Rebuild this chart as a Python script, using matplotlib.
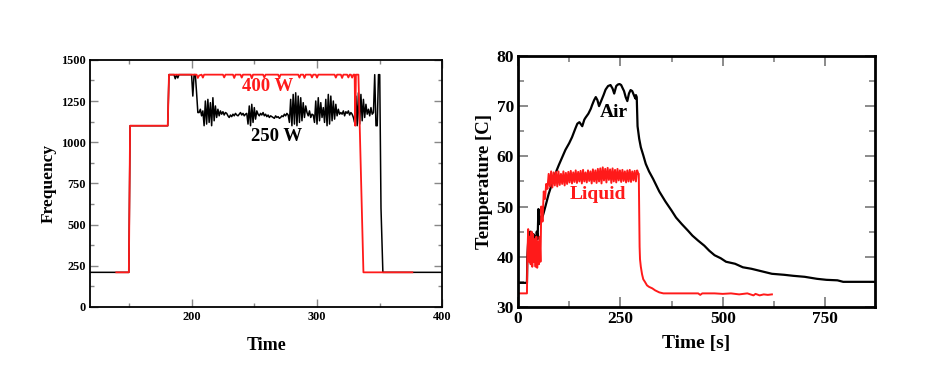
import matplotlib
matplotlib.use('Agg')
import matplotlib.pyplot as plt
from matplotlib.ticker import MultipleLocator
import numpy as np

plt.rcParams['font.family'] = ['Liberation Serif', 'DejaVu Serif']
plt.rcParams['font.weight'] = 'bold'

# ---- left panel: frequency vs time ----
# 400 W run (red)
red_t = [140, 150, 151, 181, 182, 204, 205, 206, 208, 209, 210, 225, 226, 227, 233, 234, 235,
         239, 240, 241, 247, 248, 249, 257, 258, 259, 269, 270, 271, 285, 286, 287, 289, 290, 291,
         295, 296, 297, 299, 300, 301, 314, 315, 316, 319, 320, 321, 324, 325, 326, 327, 328, 329,
         330, 330.5, 331, 333, 337, 376]
red_f = [210, 210, 1100, 1100, 1410, 1410, 1390, 1405, 1410, 1392, 1410, 1410, 1393, 1410, 1410, 1390, 1410,
         1410, 1392, 1410, 1410, 1388, 1410, 1410, 1393, 1410, 1410, 1392, 1410, 1410, 1392, 1410, 1410, 1390, 1410,
         1410, 1393, 1410, 1410, 1392, 1410, 1410, 1392, 1410, 1410, 1390, 1410, 1410, 1393, 1410, 1410, 1392, 1410,
         1410, 1100, 1410, 1410, 210, 210]

# 250 W run (black)
black_head_t = [119, 150, 151, 181, 182, 186, 187, 188, 189, 190, 200, 201, 202, 203, 204, 205]
black_head_f = [210, 210, 1100, 1100, 1410, 1410, 1385, 1410, 1390, 1410, 1410, 1280, 1410, 1410, 1300, 1180]
black_mid_f = [1180, 1200, 1160, 1190,
               1100, 1250, 1110, 1260, 1120, 1240, 1100, 1270, 1130,
               1220, 1150, 1200, 1160, 1190, 1170, 1185, 1165, 1180, 1175, 1160,
               1150, 1165, 1155, 1170, 1160, 1175, 1165, 1160, 1170, 1180, 1165, 1175, 1160, 1170, 1175,
               1110, 1220, 1100, 1230, 1120, 1210, 1140, 1190,
               1170, 1160, 1175, 1165, 1180, 1160, 1170, 1155, 1165, 1150, 1160, 1155, 1150, 1145, 1160,
               1150, 1155, 1145, 1150, 1160, 1155, 1170, 1160, 1175, 1165,
               1120, 1260, 1100, 1290, 1110, 1300, 1100, 1280, 1120, 1270, 1130, 1240, 1150, 1220,
               1180, 1160, 1190, 1150, 1170, 1165,
               1120, 1250, 1110, 1270, 1130, 1240, 1150, 1210,
               1120, 1260, 1100, 1290, 1110, 1280, 1130, 1250, 1140, 1230, 1160, 1200, 1170,
               1180, 1170, 1190, 1160, 1185, 1175, 1190, 1165, 1180, 1170, 1150,
               1120, 1280, 1100, 1300, 1110, 1290, 1130, 1260, 1150, 1230, 1170,
               1200, 1160, 1210, 1170, 1180]
black_tail_t = [346, 347, 348, 349, 350, 351, 352.5, 400]
black_tail_f = [1410, 1100, 1100, 1410, 1410, 600, 210, 210]

# ---- right panel: temperature vs time ----
air_t = [0, 22, 23, 26, 28, 30, 32, 34, 36, 38, 40, 42, 44, 46, 48, 50, 52, 55, 58, 62, 67, 75,
         85, 92, 100, 108, 116, 125, 132, 140, 145, 150, 157, 162, 165, 172, 178, 181, 186, 190,
         194, 198, 203, 209, 214, 220, 226, 231, 235, 240, 244, 248, 252, 256, 259, 263, 267, 271,
         275, 279, 284, 287, 288, 290, 292, 296, 300, 306, 312, 320, 330, 345, 360, 375, 386, 400,
         415, 426, 440, 455, 467, 480, 495, 508, 530, 549, 570, 590, 620, 650, 672, 700, 730, 753,
         780, 794, 830, 872]
air_T = [34.8, 34.8, 40, 44.5, 42, 45, 42.5, 44.8, 43, 44.5, 42, 44, 43, 45, 43.5, 49.5, 46.5, 48,
         47.5, 48.5, 50, 52.5, 55, 56.7, 58.3, 59.8, 61.3, 62.6, 63.8, 65.5, 66.5, 66.8, 66.0, 67.3,
         67.7, 68.5, 69.5, 70.2, 71.2, 71.8, 71.2, 70.0, 71.0, 72.2, 73.3, 74, 74.2, 73.5, 72.5, 74,
         74.3, 74.4, 74.2, 73.5, 73, 71.8, 71, 72.5, 73.2, 73, 72, 71.5, 72.2, 71.8, 66, 63.5, 61.8,
         60.2, 58.5, 57, 55.5, 53, 51, 49.2, 47.8, 46.5, 45.2, 44.2, 43.2, 42.2, 41.2, 40.3, 39.7,
         39.0, 38.6, 37.9, 37.6, 37.2, 36.6, 36.4, 36.2, 36.0, 35.6, 35.4, 35.3, 35.0, 35.0, 35.0]

liq_head_t = [0, 22, 23, 25, 27, 29, 31, 33, 35, 37, 39, 41, 43, 45, 47, 49, 51, 53, 55, 57, 60, 63, 66, 69]
liq_head_T = [32.7, 32.7, 40, 45.5, 39, 44, 38.5, 45, 38, 44.5, 39, 43.5, 38, 44, 37.8, 43, 38.5, 44,
              39, 50, 47, 53, 51.5, 54.5]
liq_mid_T = [53.5, 56.5, 54, 57, 53.8, 56.8, 54.2, 56.9, 54, 57, 54.3, 56.5, 54.5, 57, 54.2, 56.7,
             54.5, 56.9, 54.8, 57.1, 54.6, 56.8, 54.9, 57.2, 54.7, 56.9, 55, 57.1, 54.6, 57.3, 55, 56.8,
             54.8, 57.2, 55.1, 57, 54.6, 57.4, 55, 57.2, 54.7, 57.5, 55, 57.6, 54.6, 57.8, 55.2, 57.5,
             54.8, 57.7, 55.3, 57.4, 54.7, 57.6, 55, 57.3, 54.8, 57.5, 55.2, 57.2, 54.9, 57.3, 55.1, 57,
             54.8, 57.2, 55, 57.3, 54.9, 57, 55.2, 57.1, 55, 57.2, 56.5]
liq_tail_t = [295, 296, 297, 298, 300, 303, 306, 310, 315, 320, 328, 335, 345, 355, 400, 440, 445,
              450, 480, 500, 520, 540, 560, 575, 580, 590, 600, 610, 620]
liq_tail_T = [56.5, 50, 42, 39.5, 38, 36.5, 35.5, 35, 34.3, 34, 33.7, 33.3, 32.9, 32.7, 32.7, 32.7,
              32.4, 32.7, 32.7, 32.6, 32.7, 32.5, 32.7, 32.3, 32.6, 32.3, 32.5, 32.4, 32.5]

red = '#ff1a1a'

fig = plt.figure(figsize=(9.4, 3.91), dpi=100)

# left
ax1 = fig.add_axes([0.0957, 0.215, 0.375, 0.632])
black_t = black_head_t + list(np.arange(206, 206 + len(black_mid_f))) + black_tail_t
black_f = black_head_f + black_mid_f + black_tail_f
ax1.plot(black_t, black_f, color='black', lw=1.1)
ax1.plot(red_t, red_f, color=red, lw=1.3)
ax1.set_xlim(119, 400)
ax1.set_ylim(0, 1500)
ax1.xaxis.set_major_locator(MultipleLocator(100))
ax1.xaxis.set_minor_locator(MultipleLocator(50))
ax1.yaxis.set_major_locator(MultipleLocator(250))
ax1.yaxis.set_minor_locator(MultipleLocator(125))
ax1.tick_params(which='both', direction='in', top=True, right=True, color='#888888',
                labelsize=8.8, pad=3)
ax1.tick_params(which='major', length=6, width=1)
ax1.tick_params(which='minor', length=3, width=1)
for s in ax1.spines.values():
    s.set_linewidth(1.3)
ax1.set_xlabel('Time', fontsize=13, fontweight='bold', labelpad=10)
ax1.set_ylabel('Frequency', fontsize=12.5, fontweight='bold', labelpad=3)
ax1.text(261, 1336, '400 W', color=red, fontsize=13.5, fontweight='bold', ha='center', va='center')
ax1.text(268, 1032, '250 W', color='black', fontsize=13.5, fontweight='bold', ha='center', va='center')

# right
ax2 = fig.add_axes([0.551, 0.215, 0.380, 0.642])
liq_t = liq_head_t + list(np.arange(72, 72 + 3 * len(liq_mid_T), 3)) + liq_tail_t
liq_T = liq_head_T + liq_mid_T + liq_tail_T
ax2.plot(air_t, air_T, color='black', lw=1.6)
ax2.plot(liq_t, liq_T, color=red, lw=1.4)
ax2.set_xlim(0, 872)
ax2.set_ylim(30, 80)
ax2.xaxis.set_major_locator(MultipleLocator(250))
ax2.xaxis.set_minor_locator(MultipleLocator(125))
ax2.yaxis.set_major_locator(MultipleLocator(10))
ax2.yaxis.set_minor_locator(MultipleLocator(5))
ax2.tick_params(which='both', direction='in', top=True, right=True, color='#777777',
                labelsize=12.5, pad=3)
ax2.tick_params(which='major', length=7, width=1.2)
ax2.tick_params(which='minor', length=4, width=1.1)
for s in ax2.spines.values():
    s.set_linewidth(2)
ax2.set_xlabel('Time [s]', fontsize=14, fontweight='bold', labelpad=6)
ax2.set_ylabel('Temperature [C]', fontsize=13.5, fontweight='bold', labelpad=2)
ax2.text(233, 68.8, 'Air', color='black', fontsize=14, fontweight='bold', ha='center', va='center')
ax2.text(196, 52.3, 'Liquid', color=red, fontsize=14, fontweight='bold', ha='center', va='center')

fig.savefig('out.png', dpi=100)
